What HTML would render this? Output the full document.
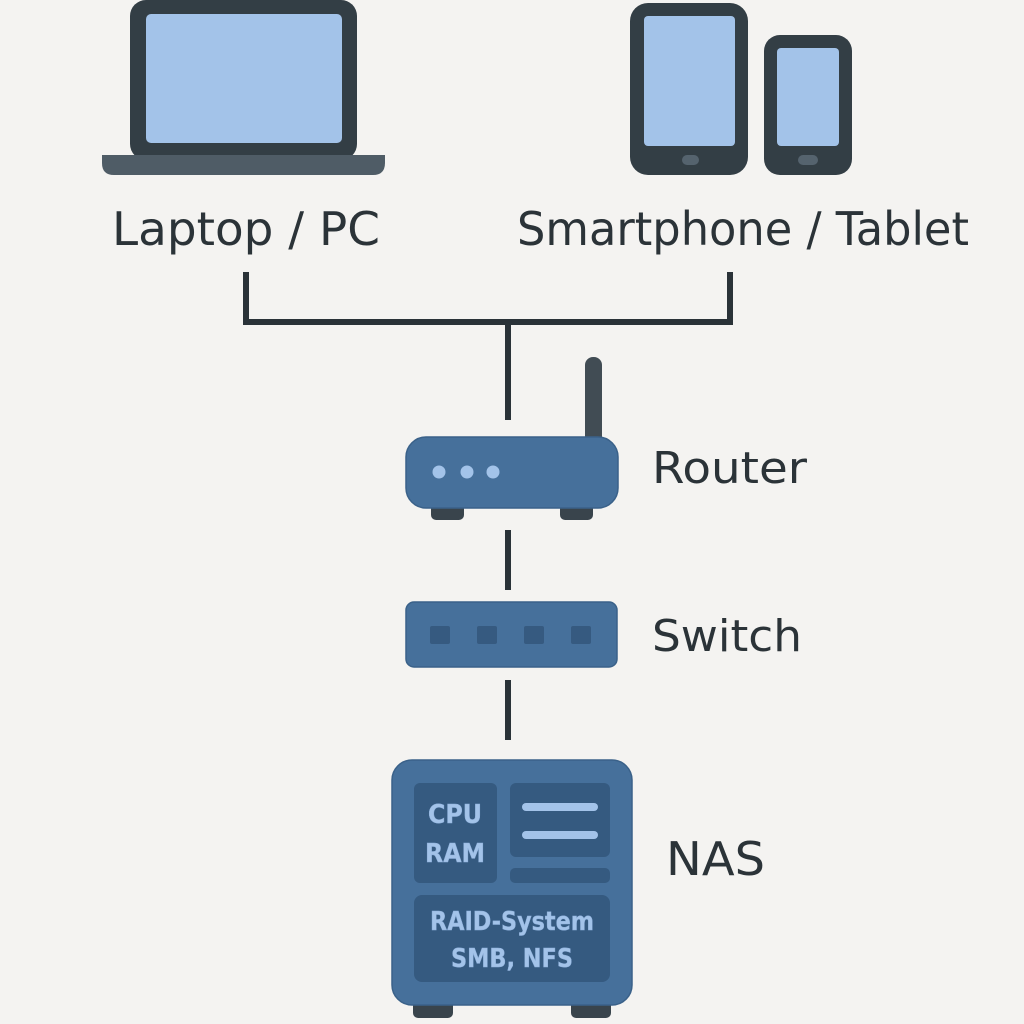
<!DOCTYPE html>
<html><head><meta charset="utf-8"><style>
html,body{margin:0;padding:0;background:#f4f3f1;}
svg{display:block;}
text{font-family:"DejaVu Sans","Liberation Sans",sans-serif;}
</style></head><body>
<svg width="1024" height="1024" viewBox="0 0 1024 1024" xmlns="http://www.w3.org/2000/svg">
<rect width="1024" height="1024" fill="#f4f3f1"/>
<!-- Laptop -->
<rect x="130" y="0" width="227" height="160" rx="16" fill="#333e45"/>
<rect x="146" y="14" width="196" height="129" rx="5" fill="#a3c3e9"/>
<path d="M102 155 H385 V163 Q385 175 373 175 H114 Q102 175 102 163 Z" fill="#4f5c66"/>
<text x="246" y="245" font-size="46" fill="#2b3338" text-anchor="middle" textLength="268" lengthAdjust="spacingAndGlyphs">Laptop / PC</text>
<!-- Tablet -->
<rect x="630" y="3" width="118" height="172" rx="18" fill="#333e45"/>
<rect x="644" y="16" width="91" height="130" rx="4" fill="#a3c3e9"/>
<rect x="682" y="155" width="17" height="10" rx="5" fill="#55636e"/>
<!-- Phone -->
<rect x="764" y="35" width="88" height="140" rx="16" fill="#333e45"/>
<rect x="777" y="48" width="62" height="98" rx="4" fill="#a3c3e9"/>
<rect x="798" y="155" width="20" height="10" rx="5" fill="#55636e"/>
<text x="743" y="245" font-size="46" fill="#2b3338" text-anchor="middle" textLength="452" lengthAdjust="spacingAndGlyphs">Smartphone / Tablet</text>
<!-- Connectors -->
<g stroke="#2a3238" stroke-width="6" fill="none">
<path d="M246 272 V322 H730 V272"/>
<path d="M508 322 V420"/>
<path d="M508 530 V590"/>
<path d="M508 680 V740"/>
</g>
<!-- Router -->
<rect x="585" y="357" width="17" height="90" rx="8" fill="#414c54"/>
<rect x="431" y="498" width="33" height="22" rx="5" fill="#39444c"/>
<rect x="560" y="498" width="33" height="22" rx="5" fill="#39444c"/>
<rect x="406" y="437" width="212" height="71" rx="20" fill="#46709b" stroke="#3a6189" stroke-width="1.5"/>
<circle cx="439" cy="472" r="6.5" fill="#a3c3e9"/>
<circle cx="467" cy="472" r="6.5" fill="#a3c3e9"/>
<circle cx="493" cy="472" r="6.5" fill="#a3c3e9"/>
<text x="652" y="483" font-size="44" fill="#2b3338" textLength="155" lengthAdjust="spacingAndGlyphs">Router</text>
<!-- Switch -->
<rect x="406" y="602" width="211" height="65" rx="8" fill="#46709b" stroke="#3a6189" stroke-width="1.5"/>
<rect x="430" y="626" width="20" height="18" rx="2" fill="#365a80"/>
<rect x="477" y="626" width="20" height="18" rx="2" fill="#365a80"/>
<rect x="524" y="626" width="20" height="18" rx="2" fill="#365a80"/>
<rect x="571" y="626" width="20" height="18" rx="2" fill="#365a80"/>
<text x="652" y="651" font-size="44" fill="#2b3338" textLength="150" lengthAdjust="spacingAndGlyphs">Switch</text>
<!-- NAS -->
<rect x="413" y="995" width="40" height="23" rx="5" fill="#39444c"/>
<rect x="571" y="995" width="40" height="23" rx="5" fill="#39444c"/>
<rect x="392" y="760" width="240" height="245" rx="20" fill="#46709b" stroke="#3a6189" stroke-width="1.5"/>
<rect x="414" y="783" width="83" height="100" rx="6" fill="#355a80"/>
<rect x="510" y="783" width="100" height="74" rx="6" fill="#355a80"/>
<rect x="510" y="868" width="100" height="15" rx="5" fill="#355a80"/>
<rect x="414" y="895" width="196" height="87" rx="8" fill="#355a80"/>
<rect x="522" y="803" width="76" height="8" rx="4" fill="#a3c3e9"/>
<rect x="522" y="831" width="76" height="8" rx="4" fill="#a3c3e9"/>
<g fill="#a3c3e9" font-weight="bold" text-anchor="middle" stroke="#8fb1dc" stroke-width="0.5">
<text x="455" y="823" font-size="26" textLength="54" lengthAdjust="spacingAndGlyphs">CPU</text>
<text x="455" y="862" font-size="26" textLength="60" lengthAdjust="spacingAndGlyphs">RAM</text>
<text x="512" y="930" font-size="26" textLength="164" lengthAdjust="spacingAndGlyphs">RAID-System</text>
<text x="512" y="967" font-size="26" textLength="122" lengthAdjust="spacingAndGlyphs">SMB, NFS</text>
</g>
<text x="666" y="875" font-size="46" fill="#2b3338" textLength="99" lengthAdjust="spacingAndGlyphs">NAS</text>
</svg>
</body></html>
